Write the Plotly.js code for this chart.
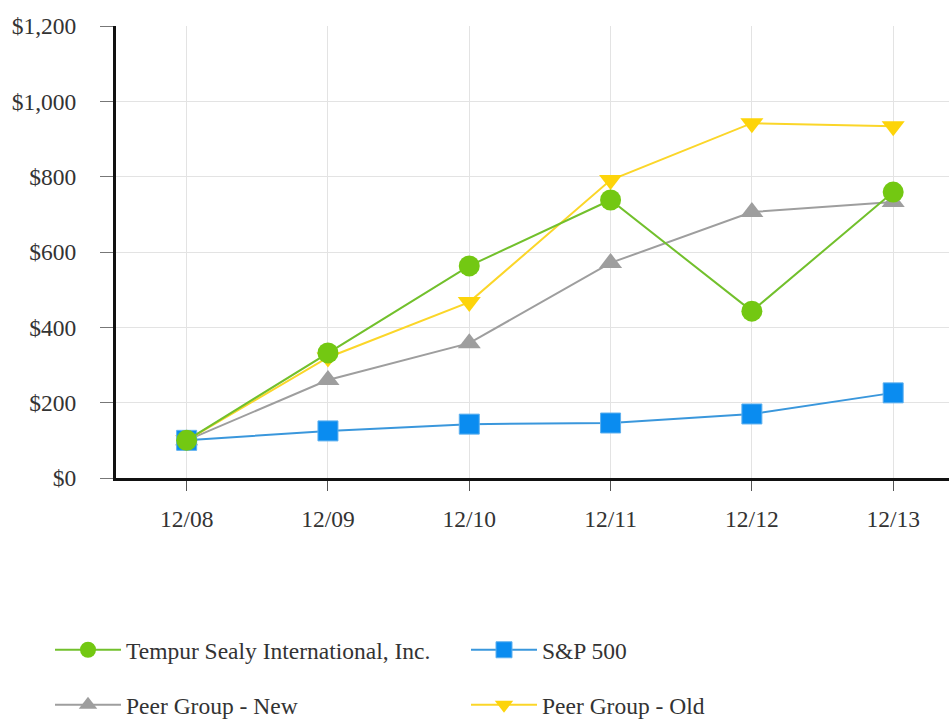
<!DOCTYPE html>
<html>
<head>
<meta charset="utf-8">
<script src="https://cdn.plot.ly/plotly-3.0.1.min.js"></script>
<style>html,body{margin:0;padding:0;background:#fff;}#chart{width:949px;height:722px;}</style>
</head>
<body>
<div id="chart"></div>
<script>
var categories = ["12/08", "12/09", "12/10", "12/11", "12/12", "12/13"];
var tempur = [100, 332, 563, 738, 443, 759];
var sp500 = [100, 125, 143, 146, 170, 226];
var peerNew = [100, 260, 358, 571, 706, 733];
var peerOld = [100, 320, 467, 791, 942, 934];
var yTickVals = [0, 200, 400, 600, 800, 1000, 1200];
var yTickText = ["$0", "$200", "$400", "$600", "$800", "$1,000", "$1,200"];

var FONT = "Liberation Serif, Times New Roman, serif";
var FS = 23.5;

var traces = [
  {x: categories, y: peerNew, name: "Peer Group - New", mode: "lines+markers", legend: "legend3",
   line: {color: "#9e9e9e", width: 2}, marker: {symbol: "triangle-up", size: 20, color: "#9e9e9e"}},
  {x: categories, y: peerOld, name: "Peer Group - Old", mode: "lines+markers", legend: "legend4",
   line: {color: "#fbd629", width: 2}, marker: {symbol: "triangle-down", size: 20, color: "#fdd40a"}},
  {x: categories, y: sp500, name: "S&P 500", mode: "lines+markers", legend: "legend2",
   line: {color: "#3a97dc", width: 2}, marker: {symbol: "square", size: 20, color: "#0a8cf0", line: {color: "#5fb0ee", width: 1}}},
  {x: categories, y: tempur, name: "Tempur Sealy International, Inc.", mode: "lines+markers", legend: "legend",
   line: {color: "#72c02c", width: 2}, marker: {symbol: "circle", size: 21, color: "#73c812"}}
];

function legendAt(px, py) {
  return {
    orientation: "h", xref: "container", yref: "container", xanchor: "left", yanchor: "middle",
    x: px / 949, y: 1 - py / 722,
    font: {family: FONT, size: 23.5, color: "#333"}, bgcolor: "rgba(0,0,0,0)",
    itemwidth: 66
  };
}

var layout = {
  width: 949, height: 722,
  margin: {l: 116, r: 0, t: 26, b: 244},
  paper_bgcolor: "#fff", plot_bgcolor: "#fff",
  font: {family: FONT, size: FS, color: "#333"},
  showlegend: true,
  legend: legendAt(50, 650),
  legend2: legendAt(466, 650),
  legend3: legendAt(50, 705),
  legend4: legendAt(466, 705),
  xaxis: {
    type: "category", range: [-0.5, 5.395],
    showgrid: true, gridcolor: "#e3e3e3", gridwidth: 1,
    showline: true, linecolor: "#111", linewidth: 3,
    ticks: "outside", ticklen: 10, tickcolor: "#555", tickwidth: 1,
    ticklabelstandoff: 8,
    tickfont: {family: FONT, size: FS, color: "#333"},
    zeroline: false, fixedrange: true
  },
  yaxis: {
    range: [0, 1200], tickvals: yTickVals, ticktext: yTickText,
    showgrid: true, gridcolor: "#e3e3e3", gridwidth: 1,
    showline: true, linecolor: "#111", linewidth: 3,
    ticks: "outside", ticklen: 13, tickcolor: "#777", tickwidth: 1,
    ticklabelstandoff: 19,
    tickfont: {family: FONT, size: FS, color: "#333"},
    zeroline: false, fixedrange: true
  }
};

Plotly.newPlot("chart", traces, layout, {displayModeBar: false, staticPlot: true});
</script>
</body>
</html>
